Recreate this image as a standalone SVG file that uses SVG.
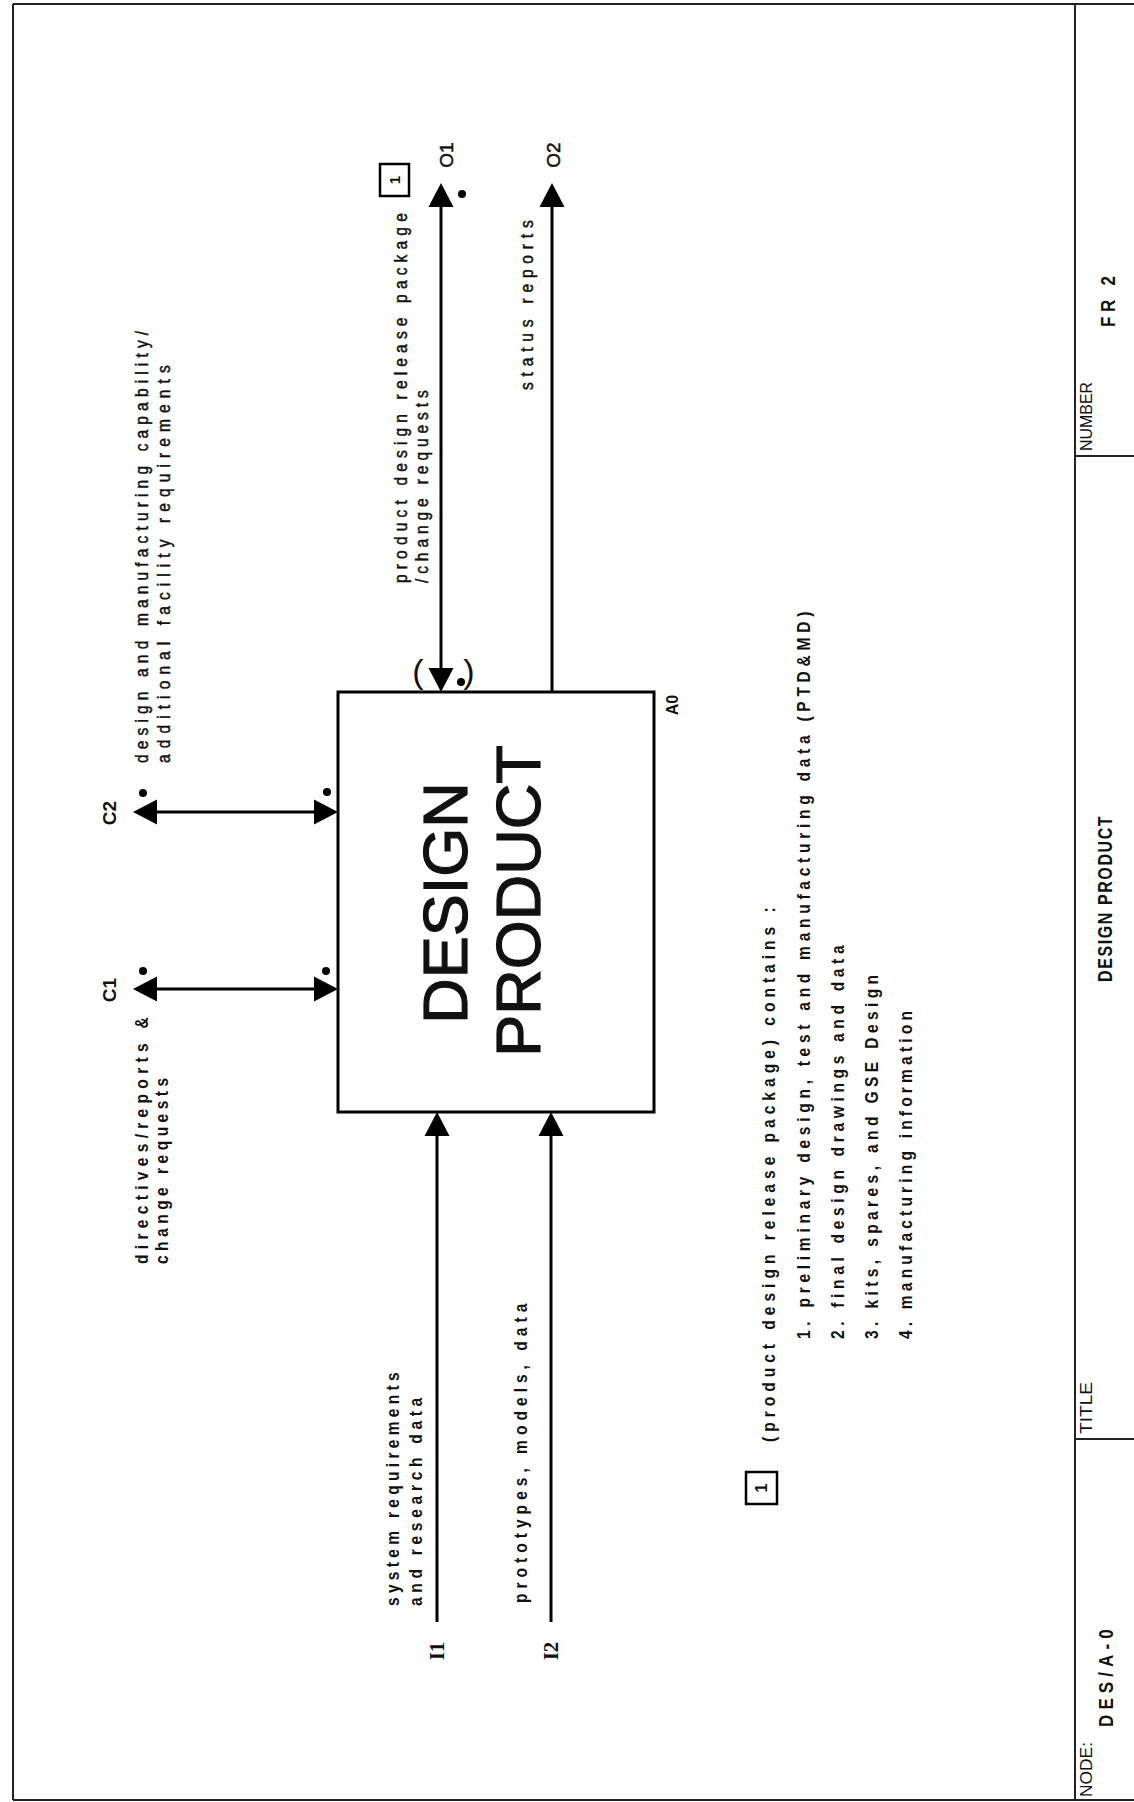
<svg xmlns="http://www.w3.org/2000/svg" width="1134" height="1802" viewBox="0 0 1134 1802">
<defs>
<style>
.t{font-family:"Liberation Sans",Arial,sans-serif;fill:#111;font-size:19px}
.lb{stroke:#111;stroke-width:0.5}
.b{font-weight:bold}
.s{font-family:"Liberation Serif","Times New Roman",serif;font-weight:bold;fill:#111;font-size:21px}
.ln{stroke:#000;stroke-width:3;fill:none}
.fr{stroke:#222;stroke-width:2;fill:none}
.dot{fill:#000}
.big{font-size:63px;stroke:#111;stroke-width:1.2}
</style>
<marker id="ah" markerUnits="userSpaceOnUse" markerWidth="25" markerHeight="26" refX="0" refY="13" orient="auto-start-reverse" overflow="visible">
<path d="M0,0.5 L24,13 L0,25.5 Z" fill="#000"/>
</marker>
</defs>
<rect x="0" y="0" width="1134" height="1802" fill="#fff"/>

<g id="frame">
<path class="fr" d="M13,4 H1134 M13,4 V1800 M13,1800 H1134 M1075,4 V1800 M1075,456 H1134 M1075,1439 H1134"/>
</g>

<g id="titleblock">
<text class="t" style="font-size:17px" transform="translate(1092,451) rotate(-90)" textLength="69" lengthAdjust="spacingAndGlyphs">NUMBER</text>
<text class="t b" style="font-size:20px" transform="translate(1115,327) rotate(-90) scale(0.85,1)" textLength="60" lengthAdjust="spacing">FR 2</text>
<text class="t b" style="font-size:20px" transform="translate(1112,982) rotate(-90) scale(0.8,1)" textLength="207" lengthAdjust="spacing">DESIGN PRODUCT</text>
<text class="t" style="font-size:17px" transform="translate(1092,1434) rotate(-90)" textLength="52" lengthAdjust="spacingAndGlyphs">TITLE</text>
<text class="t" style="font-size:17px" transform="translate(1092,1797) rotate(-90)" textLength="55" lengthAdjust="spacingAndGlyphs">NODE:</text>
<text class="t b" style="font-size:20px" transform="translate(1113,1727) rotate(-90) scale(0.85,1)" textLength="115" lengthAdjust="spacing">DES/A-0</text>
</g>

<g id="node-A0">
<rect x="338" y="692" width="316" height="420" fill="none" stroke="#000" stroke-width="3"/>
<text class="t big" text-anchor="middle" transform="translate(467,903) rotate(-90)">DESIGN</text>
<text class="t big" text-anchor="middle" transform="translate(540,901) rotate(-90)">PRODUCT</text>
<text class="t b" style="font-size:16px" text-anchor="middle" transform="translate(678,705) rotate(-90)">A0</text>
</g>

<g id="connectors">
<path class="ln" d="M441,668 V207" marker-start="url(#ah)" marker-end="url(#ah)"/>
<path class="ln" d="M552,692 V207" marker-end="url(#ah)"/>
<path class="ln" d="M157,989 H314" marker-start="url(#ah)" marker-end="url(#ah)"/>
<path class="ln" d="M157,812 H314" marker-start="url(#ah)" marker-end="url(#ah)"/>
<path class="ln" d="M437,1622 V1136" marker-end="url(#ah)"/>
<path class="ln" d="M551,1622 V1136" marker-end="url(#ah)"/>
<circle class="dot" cx="143" cy="971" r="4"/>
<circle class="dot" cx="326" cy="971" r="4"/>
<circle class="dot" cx="143" cy="793" r="4"/>
<circle class="dot" cx="327" cy="792" r="4"/>
<circle class="dot" cx="462" cy="194" r="4"/>
<circle class="dot" cx="461" cy="682" r="4"/>
<text class="t" style="font-size:34px" text-anchor="middle" x="418" y="683">(</text>
<text class="t" style="font-size:34px" text-anchor="middle" x="469" y="683">)</text>
</g>

<g id="label-C2">
<text class="t b" style="font-size:19px" text-anchor="middle" transform="translate(116,813) rotate(-90)">C2</text>
<text class="t lb" transform="translate(148,763) rotate(-90) scale(0.82,1)" textLength="527" lengthAdjust="spacing">design and manufacturing capability/</text>
<text class="t lb" transform="translate(170,763) rotate(-90) scale(0.82,1)" textLength="485" lengthAdjust="spacing">additional facility requirements</text>
</g>

<g id="label-C1">
<text class="t b" style="font-size:19px" text-anchor="middle" transform="translate(116,990) rotate(-90)">C1</text>
<text class="t b" transform="translate(148,1264) rotate(-90) scale(0.82,1)" textLength="301" lengthAdjust="spacing">directives/reports &amp;</text>
<text class="t b" transform="translate(168,1264) rotate(-90) scale(0.82,1)" textLength="227" lengthAdjust="spacing">change requests</text>
</g>

<g id="label-O1">
<text class="t lb" style="font-size:19px" text-anchor="middle" transform="translate(453,155) rotate(-90)">O1</text>
<rect x="380" y="164" width="29" height="32" fill="none" stroke="#000" stroke-width="2.5"/>
<text class="t b" style="font-size:15px" text-anchor="middle" transform="translate(400,180) rotate(-90)">1</text>
<text class="t lb" transform="translate(407,583) rotate(-90) scale(0.82,1)" textLength="451" lengthAdjust="spacing">product design release package</text>
<text class="t lb" transform="translate(428,583) rotate(-90) scale(0.82,1)" textLength="235" lengthAdjust="spacing">/change requests</text>
</g>

<g id="label-O2">
<text class="t lb" style="font-size:19px" text-anchor="middle" transform="translate(560,155) rotate(-90)">O2</text>
<text class="t lb" transform="translate(533,390) rotate(-90) scale(0.82,1)" textLength="207" lengthAdjust="spacing">status reports</text>
</g>

<g id="label-I1">
<text class="s" text-anchor="middle" transform="translate(444,1651) rotate(-90)">I1</text>
<text class="t b" transform="translate(399,1606) rotate(-90) scale(0.82,1)" textLength="285" lengthAdjust="spacing">system requirements</text>
<text class="t b" transform="translate(422,1606) rotate(-90) scale(0.82,1)" textLength="254" lengthAdjust="spacing">and research data</text>
</g>

<g id="label-I2">
<text class="s" text-anchor="middle" transform="translate(558,1651) rotate(-90)">I2</text>
<text class="t b" transform="translate(527,1603) rotate(-90) scale(0.82,1)" textLength="365" lengthAdjust="spacing">prototypes, models, data</text>
</g>

<g id="footnote">
<rect x="746" y="1472" width="31" height="32" fill="none" stroke="#000" stroke-width="2.5"/>
<text class="t b" style="font-size:16px" text-anchor="middle" transform="translate(767,1488) rotate(-90)">1</text>
<text class="t b" transform="translate(775,1442) rotate(-90) scale(0.82,1)" textLength="652" lengthAdjust="spacing">(product design release package) contains :</text>
<text class="t b" transform="translate(810,1339) rotate(-90) scale(0.82,1)" textLength="887" lengthAdjust="spacing">1. preliminary design, test and manufacturing data (PTD&amp;MD)</text>
<text class="t b" transform="translate(844,1339) rotate(-90) scale(0.82,1)" textLength="480" lengthAdjust="spacing">2. final design drawings and data</text>
<text class="t b" transform="translate(878,1339) rotate(-90) scale(0.82,1)" textLength="444" lengthAdjust="spacing">3. kits, spares, and GSE Design</text>
<text class="t b" transform="translate(912,1339) rotate(-90) scale(0.82,1)" textLength="400" lengthAdjust="spacing">4. manufacturing information</text>
</g>
</svg>
